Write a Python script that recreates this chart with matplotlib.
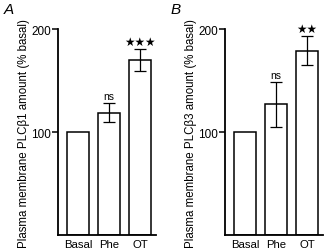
import matplotlib
matplotlib.use("Agg")
import matplotlib.pyplot as plt

categories = ["Basal", "Phe", "OT"]
values_a = [100, 119, 170]
errors_a = [0, 9.5, 10.5]
signif_a = ["", "ns", "★★★"]
values_b = [100, 127, 179]
errors_b = [0, 22, 14]
signif_b = ["", "ns", "★★"]
ylabel_a = "Plasma membrane PLCβ1 amount (% basal)"
ylabel_b = "Plasma membrane PLCβ3 amount (% basal)"

plt.rcParams['font.family'] = ['Liberation Sans', 'DejaVu Sans']
fig = plt.figure(figsize=(3.31, 2.53), dpi=100)

def panel(rect, vals, errs, sig, ylabel, letter, letter_x):
    ax = fig.add_axes(rect)
    x = range(len(categories))
    ax.bar(x, vals, width=0.7, color="white", edgecolor="black", linewidth=1.1)
    for i, (v, e) in enumerate(zip(vals, errs)):
        if e > 0:
            ax.errorbar(i, v, yerr=e, color="black", capsize=4.5, elinewidth=0.9, capthick=0.9)
        if sig[i]:
            if sig[i] == "ns":
                ax.text(i, v + e + 2, sig[i], ha="center", va="bottom", fontsize=7.5)
            else:
                ax.text(i, v + e + 1, sig[i], ha="center", va="bottom", fontsize=8.5,
                        family=['DejaVu Sans'])
    ax.set_xlim(-0.65, 2.5)
    ax.set_ylim(0, 200)
    ax.set_yticks([100, 200])
    ax.set_xticks(list(x))
    ax.set_xticklabels(categories, fontsize=8.2)
    ax.tick_params(axis="x", length=0, pad=3)
    ax.tick_params(axis="y", length=4, width=1.1, labelsize=8.5, pad=1)
    for s in ["top", "right"]:
        ax.spines[s].set_visible(False)
    for s in ["left", "bottom"]:
        ax.spines[s].set_linewidth(1.3)
    ax.set_ylabel(ylabel, fontsize=8.3, labelpad=1)
    fig.text(letter_x, 0.99, letter, fontsize=11, style="italic", ha="left", va="top")
    return ax

panel([0.175, 0.067, 0.295, 0.814], values_a, errors_a, signif_a, ylabel_a, "A", 0.012)
panel([0.680, 0.067, 0.295, 0.814], values_b, errors_b, signif_b, ylabel_b, "B", 0.515)

fig.savefig("out.png", dpi=100)
